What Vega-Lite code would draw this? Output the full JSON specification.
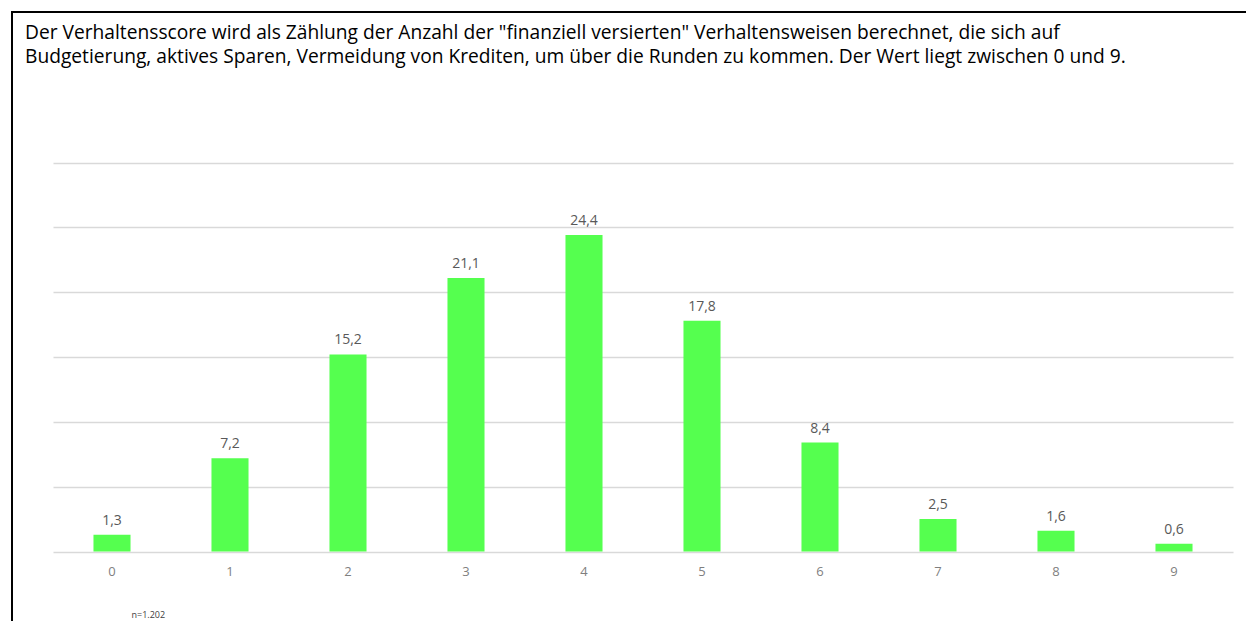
{
  "$schema": "https://vega.github.io/schema/vega-lite/v6.json",
  "autosize": "none",
  "width": 1237,
  "height": 612,
  "padding": {"left": 12, "top": 12, "right": -3, "bottom": -3},
  "background": "white",
  "title": {
    "text": [
      "Der Verhaltensscore wird als Zählung der Anzahl der \"finanziell versierten\" Verhaltensweisen berechnet, die sich auf",
      "Budgetierung, aktives Sparen, Vermeidung von Krediten, um über die Runden zu kommen. Der Wert liegt zwischen 0 und 9."
    ],
    "anchor": "start",
    "frame": "group",
    "orient": "top",
    "baseline": "top",
    "offset": -55,
    "dx": 13,
    "font": "Open Sans",
    "fontSize": 19.2,
    "fontWeight": "normal",
    "color": "#000000",
    "lineHeight": 24
  },
  "data": {
    "values": [
      {"score": "0", "anteil": 1.3},
      {"score": "1", "anteil": 7.2},
      {"score": "2", "anteil": 15.2},
      {"score": "3", "anteil": 21.1},
      {"score": "4", "anteil": 24.4},
      {"score": "5", "anteil": 17.8},
      {"score": "6", "anteil": 8.4},
      {"score": "7", "anteil": 2.5},
      {"score": "8", "anteil": 1.6},
      {"score": "9", "anteil": 0.6}
    ]
  },
  "encoding": {
    "x": {
      "field": "score",
      "type": "nominal",
      "sort": null,
      "scale": {"range": [41, 1221], "paddingInner": 0.686, "paddingOuter": 0.343},
      "axis": {
        "title": "n=1.202",
        "titleFont": "Open Sans",
        "titleFontSize": 9,
        "titleFontWeight": "normal",
        "titleColor": "#404040",
        "titleAnchor": "start",
        "titleAlign": "left",
        "titleBaseline": "top",
        "titleX": 119,
        "titleY": 59,
        "labelAngle": 0,
        "labelFont": "Open Sans",
        "labelFontSize": 13,
        "labelColor": "#7f7f7f",
        "labelPadding": 14,
        "ticks": false,
        "tickSize": 0,
        "domain": false,
        "grid": false,
        "offset": -72.5
      }
    },
    "y": {
      "field": "anteil",
      "type": "quantitative",
      "scale": {"domain": [0, 30], "nice": false, "range": [539.5, 150.5]},
      "axis": {
        "title": null,
        "labels": false,
        "ticks": false,
        "domain": false,
        "values": [0, 5, 10, 15, 20, 25, 30],
        "grid": true,
        "gridColor": "#d9d9d9",
        "gridWidth": 1.3
      }
    }
  },
  "layer": [
    {"mark": {"type": "bar", "color": "#55ff4f"}},
    {
      "mark": {"type": "text", "baseline": "bottom", "dy": -7, "font": "Open Sans", "fontSize": 14, "color": "#595959"},
      "encoding": {"text": {"field": "anteil", "type": "quantitative", "format": ".1f"}}
    }
  ],
  "config": {
    "locale": {"number": {"decimal": ",", "thousands": ".", "grouping": [3], "currency": ["", " €"]}},
    "view": {"stroke": "#000000", "strokeWidth": 2}
  }
}
